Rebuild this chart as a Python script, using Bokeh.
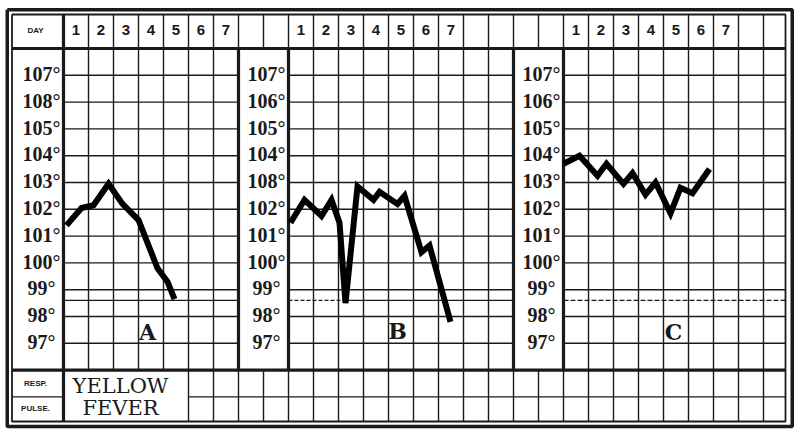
from bokeh.plotting import figure
from bokeh.models import Range1d
from bokeh.core.properties import value
from bokeh.embed import file_html
from bokeh.resources import INLINE

# ---------------- data ----------------
day_labels = ["1", "2", "3", "4", "5", "6", "7"]
scale_temps = [107, 106, 105, 104, 103, 102, 101, 100, 99, 98, 97]
labels_a = ["107°", "108°", "105°", "104°", "103°", "102°", "101°", "100°", "99°", "98°", "97°"]
labels_b = ["107°", "106°", "105°", "104°", "108°", "102°", "101°", "100°", "99°", "98°", "97°"]
labels_c = ["107°", "106°", "105°", "104°", "103°", "102°", "101°", "100°", "99°", "98°", "97°"]

# days elapsed since start of day 1, temperature in °F
a_time = [0.12, 0.72, 1.2, 1.8, 2.36, 3.0, 3.76, 4.16, 4.44]
a_temp = [101.4, 102.05, 102.15, 102.95, 102.2, 101.6, 99.8, 99.3, 98.65]
b_time = [0.08, 0.64, 1.32, 1.72, 2.04, 2.28, 2.76, 3.4, 3.64, 4.36, 4.64, 5.32, 5.64, 6.48]
b_temp = [101.5, 102.35, 101.75, 102.35, 101.5, 98.5, 102.85, 102.35, 102.65, 102.2, 102.5, 100.4, 100.65, 97.8]
c_time = [0.0, 0.64, 1.36, 1.72, 2.4, 2.76, 3.28, 3.68, 4.28, 4.68, 5.16, 5.84]
c_temp = [103.7, 104.0, 103.25, 103.7, 102.95, 103.35, 102.55, 103.0, 101.85, 102.8, 102.6, 103.5]
case_names = ["A", "B", "C"]
normal_temp = 98.6

# ---------------- layout (columns = days, rows = degrees) ----------------
panel_start = [0, 9, 20]
panel_end = [7, 18, 28.88]
label_box_w = 2
LEFT_IN, RIGHT_IN = -2.06, 28.88
TOP_IN, BOT_IN = 109.269, 94.082
LEFT_OUT, RIGHT_OUT = -2.25, 29.15
TOP_OUT, BOT_OUT = 109.45, 93.9
T_TOP_GRID, T_BOT_GRID = 108, 96

INK = "#1a1a1a"

p = figure(width=800, height=435, x_range=Range1d(-2.52, 29.48), y_range=Range1d(93.5597, 109.791),
           output_backend="svg", toolbar_location=None, min_border=0,
           x_axis_location=None, y_axis_location=None, outline_line_color=None,
           background_fill_color="white", border_fill_color="white")
p.grid.visible = False

# thin vertical lines
x0s, y0s, x1s, y1s = [], [], [], []
for k in range(1, 29):  # header
    x0s.append(k); x1s.append(k); y0s.append(T_TOP_GRID); y1s.append(TOP_IN)
for s, e in zip(panel_start, panel_end):
    k = s + 1
    while k < e:
        x0s.append(k); x1s.append(k); y0s.append(T_BOT_GRID); y1s.append(T_TOP_GRID)
        k += 1
for k in range(5, 29):  # resp / pulse rows
    x0s.append(k); x1s.append(k); y0s.append(BOT_IN); y1s.append(T_BOT_GRID)
# thin horizontal lines
for s, e in zip(panel_start, panel_end):
    for t in scale_temps:
        x0s.append(s); x1s.append(e); y0s.append(t); y1s.append(t)
x0s += [LEFT_IN, 5]; x1s += [0, RIGHT_IN]; y0s += [95, 95]; y1s += [95, 95]
p.segment(x0s, y0s, x1s, y1s, line_color=INK, line_width=1.4)

# thick lines
tx0 = [0, 7, 9, 18, 20, LEFT_IN, LEFT_IN]
tx1 = [0, 7, 9, 18, 20, RIGHT_IN, RIGHT_IN]
ty0 = [BOT_IN, T_BOT_GRID, T_BOT_GRID, T_BOT_GRID, T_BOT_GRID, T_TOP_GRID, T_BOT_GRID]
ty1 = [TOP_IN, T_TOP_GRID, T_TOP_GRID, T_TOP_GRID, T_TOP_GRID, T_TOP_GRID, T_BOT_GRID]
p.segment(tx0, ty0, tx1, ty1, line_color=INK, line_width=3.2)

# borders
p.line([LEFT_IN, RIGHT_IN, RIGHT_IN, LEFT_IN, LEFT_IN], [TOP_IN, TOP_IN, BOT_IN, BOT_IN, TOP_IN],
       line_color=INK, line_width=1.8)
p.line([LEFT_OUT, RIGHT_OUT, RIGHT_OUT, LEFT_OUT, LEFT_OUT], [TOP_OUT, TOP_OUT, BOT_OUT, BOT_OUT, TOP_OUT],
       line_color=INK, line_width=3.5)

# normal temperature line
p.line([panel_start[0], panel_end[0]], [normal_temp] * 2, line_color=INK, line_width=1.3)
p.line([panel_start[1], panel_start[1] + 2.2], [normal_temp] * 2, line_color=INK, line_width=1.3, line_dash="4 2")
p.line([panel_start[1] + 2.2, panel_end[1]], [normal_temp] * 2, line_color=INK, line_width=1.3)
p.line([panel_start[2], panel_end[2]], [normal_temp] * 2, line_color=INK, line_width=1.3, line_dash="5 2")

# temperature curves
for s, tt, vv in zip(panel_start, [a_time, b_time, c_time], [a_temp, b_temp, c_temp]):
    p.line([s + t for t in tt], vv, line_color="black", line_width=6, line_join="miter")

# day numbers
hx, hy, ht = [], [], []
for s in panel_start:
    for i, d in enumerate(day_labels):
        hx.append(s + i + 0.5); hy.append(108.68); ht.append(d)
p.text(hx, hy, text=ht, text_font=value("Liberation Sans"), text_font_size=value("15px"),
       text_font_style="bold", text_align="center", text_baseline="middle", text_color=INK)

# scale labels
sx, sy, st = [], [], []
for s, labs in zip(panel_start, [labels_a, labels_b, labels_c]):
    for t, lab in zip(scale_temps, labs):
        sx.append(s - label_box_w / 2 + 0.12); sy.append(t + 0.05); st.append(lab)
p.text(sx, sy, text=st, text_font=value("Liberation Sans Narrow"), text_font_size=value("20px"),
       text_font_style="bold", text_align="center", text_baseline="middle", text_color=INK)

# case letters
p.text([panel_start[0] + 3.36, panel_start[1] + 4.36, panel_start[2] + 4.4], [97.42, 97.45, 97.42],
       text=case_names, text_font=value("DejaVu Serif"), text_font_size=value("22px"),
       text_font_style="bold", text_align="center", text_baseline="middle", text_color=INK)

# left column captions
p.text([-1.12, -1.12, -1.12], [108.67, 95.5, 94.55], text=["DAY", "RESP.", "PULSE."],
       text_font=value("Liberation Sans"), text_font_size=value("8px"), text_font_style="bold",
       text_align="center", text_baseline="middle", text_color=INK)

# disease caption
p.text([2.28, 2.28], [95.42, 94.6], text=["YELLOW", "FEVER"], text_font=value("DejaVu Serif"),
       text_font_size=value("21px"), text_align="center", text_baseline="middle", text_color=INK)

open("out.html", "w").write(file_html(p, INLINE))
